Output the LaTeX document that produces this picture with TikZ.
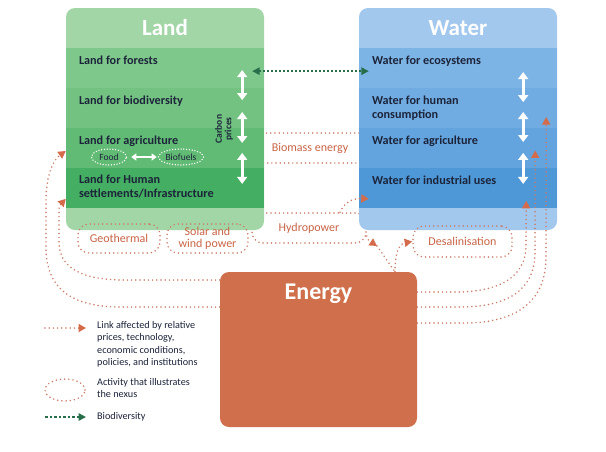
\documentclass[tikz,border=0pt]{standalone}
\usepackage{fontspec}
\setmainfont{Carlito}
\usepackage{tikz}
\usetikzlibrary{positioning,arrows.meta,shapes.geometric}

\definecolor{navy}{RGB}{28,36,58}
\definecolor{landhead}{RGB}{163,214,167}
\definecolor{landA}{RGB}{127,200,140}
\definecolor{landB}{RGB}{115,194,129}
\definecolor{landC}{RGB}{98,187,117}
\definecolor{landD}{RGB}{68,174,98}
\definecolor{waterhead}{RGB}{163,200,238}
\definecolor{waterA}{RGB}{125,180,230}
\definecolor{waterB}{RGB}{112,172,226}
\definecolor{waterC}{RGB}{100,164,222}
\definecolor{waterD}{RGB}{78,152,216}
\definecolor{energyc}{RGB}{207,111,75}
\definecolor{linkc}{RGB}{204,122,102}
\definecolor{tipc}{RGB}{212,108,75}
\definecolor{actc}{RGB}{200,100,70}
\definecolor{biogreen}{RGB}{40,110,75}

\tikzset{
    panel/.style={rounded corners=9pt, minimum width=198pt,
        minimum height=222pt, inner sep=0pt},
    band/.style={minimum width=198pt, minimum height=39.5pt, inner sep=0pt},
    rowtext/.style={anchor=north west, align=left, inner sep=0pt,
        font=\bfseries\fontsize{12.2}{13.5}\selectfont, text=navy},
    headline/.style={text=white, font=\bfseries\fontsize{23}{25}\selectfont},
    duo/.style={white, line width=3pt,
        {Triangle[width=10pt,length=7pt]}-{Triangle[width=10pt,length=7pt]}},
    link/.style={draw=linkc, line width=1.7pt, line cap=round,
        dash pattern=on 0pt off 4.2pt},
    linktip/.style={-{Triangle[width=8pt,length=7.5pt,color=tipc]}},
    activity/.style={draw=linkc, line width=1.7pt, line cap=round,
        dash pattern=on 0pt off 4.2pt, rounded corners=11pt, text=actc,
        font=\fontsize{12}{11.5}\selectfont, inner sep=0pt, align=center},
    foodbox/.style={ellipse, draw=white, line width=1.5pt, line cap=round,
        dash pattern=on 0pt off 2.8pt, minimum width=35pt, minimum height=16pt,
        inner sep=0.5pt, text=navy, font=\fontsize{9.5}{9.5}\selectfont},
    bio/.style={draw=biogreen, line width=1.6pt, dash pattern=on 1.6pt off 2.4pt,
        {Triangle[width=7.5pt,length=7.5pt]}-{Triangle[width=7.5pt,length=7.5pt]}},
    keytext/.style={anchor=north west, align=left, inner sep=0pt, text=navy,
        font=\fontsize{10.2}{12.5}\selectfont},
}

\begin{document}
\begin{tikzpicture}[x=1pt,y=-1pt]

        \fill[white] (0,0) rectangle (606,451);
        \useasboundingbox (0,0) rectangle (606,451);

        % Activities lying behind the panels

        \node[activity,
        minimum width=120pt,
        minimum height=30pt
            ] (biomass) at (310,148) {Biomass energy};

        \node[activity,
        minimum width=114pt,
        minimum height=30pt
            ] (hydro) at (309,228) {Hydropower};

        % Land

        \node[panel, fill=landhead] (land) at (165,119) {};
        \node[band, minimum height=40pt, anchor=north, headline]
            (landhead) at (land.north) {Land};
        \node[band, fill=landA, below=0pt of landhead] (forest) {};
        \node[band, fill=landB, below=0pt of forest] (biodiv) {};
        \node[band, fill=landC, below=0pt of biodiv] (agrirow) {};
        \node[band, fill=landD, below=0pt of agrirow] (humanrow) {};

        \node[rowtext] (forestlbl) at ([xshift=13pt,yshift=-8pt]forest.north west)
            {Land for forests};
        \node[rowtext] (biodivlbl) at ([xshift=13pt,yshift=-8pt]biodiv.north west)
            {Land for biodiversity};
        \node[rowtext] (agrilbl) at ([xshift=13pt,yshift=-8pt]agrirow.north west)
            {Land for agriculture};
        \node[rowtext] (humanlbl) at ([xshift=13pt,yshift=-7pt]humanrow.north west)
            {Land for Human\\settlements/Infrastructure};

        \node[foodbox] (food) at (109,157) {Food};
        \node[foodbox] (biofuel) at (181,157) {Biofuels};
        \draw[white, line width=2.2pt,
            {Triangle[width=7pt,length=5pt]}-{Triangle[width=7pt,length=5pt]}]
            ([xshift=4pt]food.east) -- ([xshift=-1pt]biofuel.west);

        \node[rotate=90, align=center, inner sep=0pt, text=navy,
            font=\bfseries\fontsize{9.5}{9.5}\selectfont]
            (carbon) at (224,129) {Carbon\\prices};

        \draw[duo] ([xshift=-22pt,yshift=18pt]forest.south east)
            -- ([xshift=-22pt,yshift=-12pt]forest.south east);
        \draw[duo] ([xshift=-22pt,yshift=16pt]biodiv.south east)
            -- ([xshift=-22pt,yshift=-15pt]biodiv.south east);
        \draw[duo] ([xshift=-22pt,yshift=15pt]agrirow.south east)
            -- ([xshift=-22pt,yshift=-16pt]agrirow.south east);

        % Water

        \node[panel, fill=waterhead] (water) at (458,119) {};
        \node[band, minimum height=40pt, anchor=north, headline]
            (waterhead) at (water.north) {Water};
        \node[band, fill=waterA, below=0pt of waterhead] (ecosys) {};
        \node[band, fill=waterB, below=0pt of ecosys] (whumrow) {};
        \node[band, fill=waterC, below=0pt of whumrow] (wagrirow) {};
        \node[band, fill=waterD, below=0pt of wagrirow] (indrow) {};

        \node[rowtext] (ecosyslbl) at ([xshift=13pt,yshift=-8pt]ecosys.north west)
            {Water for ecosystems};
        \node[rowtext] (whumlbl) at ([xshift=13pt,yshift=-8pt]whumrow.north west)
            {Water for human\\consumption};
        \node[rowtext] (wagrilbl) at ([xshift=13pt,yshift=-8pt]wagrirow.north west)
            {Water for agriculture};
        \node[rowtext] (indlbl) at ([xshift=13pt,yshift=-8pt]indrow.north west)
            {Water for industrial uses};

        \draw[duo] ([xshift=-34pt,yshift=16pt]ecosys.south east)
            -- ([xshift=-34pt,yshift=-14pt]ecosys.south east);
        \draw[duo] ([xshift=-34pt,yshift=16pt]whumrow.south east)
            -- ([xshift=-34pt,yshift=-14pt]whumrow.south east);
        \draw[duo] ([xshift=-34pt,yshift=15pt]wagrirow.south east)
            -- ([xshift=-34pt,yshift=-16pt]wagrirow.south east);

        % Energy

        \node[panel, fill=energyc,
        minimum width=197pt,
        minimum height=155pt
            ] (energy) at (318.5,349.5) {};
        \node[headline, anchor=north, inner sep=0pt,
            font=\bfseries\fontsize{24}{26}\selectfont]
            (energylbl) at ([yshift=-12pt]energy.north) {Energy};

        % Activities in front

        \node[activity,
        minimum width=82pt,
        minimum height=29pt
            ] (geo) at (119,238.5) {Geothermal};

        \node[activity,
        minimum width=81pt,
        minimum height=29pt
            ] (solar) at (207.5,238.5) {Solar and\\wind power};

        \node[activity,
        minimum width=99pt,
        minimum height=31pt
            ] (desal) at (462.5,241.5) {Desalinisation};

        % Links

        \draw[bio] ([xshift=-12pt,yshift=-3pt]forest.east)
            -- ([xshift=10pt,yshift=-3pt]ecosys.west);

        \draw[link, linktip] ([yshift=42.5pt]energy.west) -- (120,307)
            .. controls (70,307) and (46,287) .. (46,248) -- (46,200)
            .. controls (46,176) and (53,160) .. ([yshift=-3pt]agrirow.west);
        \draw[link, linktip] ([yshift=69.5pt]energy.west) -- (125,280)
            .. controls (82,280) and (59,268) .. (59,242) -- (59,214)
            .. controls (59,206) .. ([yshift=-11pt]humanrow.west);

        \draw[link, linktip] ([yshift=57.5pt]energy.east) -- (455,292)
            .. controls (495,292) and (526,280) .. (526,245)
            -- ([xshift=-31pt,yshift=-13pt]indrow.east);
        \draw[link, linktip] ([yshift=42.5pt]energy.east) -- (460,307)
            .. controls (505,307) and (535,292) .. (535,252)
            -- ([xshift=-22pt,yshift=-2.5pt]wagrirow.east);
        \draw[link, linktip] ([yshift=26.5pt]energy.east) -- (465,323)
            .. controls (515,323) and (546,302) .. (546,258)
            -- ([xshift=-11pt,yshift=-9pt]whumrow.east);

        \draw[link, linktip] ([xshift=31pt]hydro.north)
            .. controls (344,203) and (352,198) .. ([xshift=10pt,yshift=-11pt]indrow.west);
        \draw[link, linktip] ([yshift=-8pt]hydro.east)
            .. controls (368,240) .. (377,246) coordinate (hydrodown);
        \draw[link] (hydrodown) -- ([xshift=76.5pt]energy.north);
        \draw[link, linktip] ([xshift=76.5pt]energy.north)
            .. controls (395,255) and (398,244) .. (desal.west);

        % Key

        \coordinate (keylinkA) at (45,328);
        \coordinate (keylinkB) at (86,328);
        \draw[link, linktip] (keylinkA) -- (keylinkB);
        \node[keytext] (keylink) at (97,321)
            {Link affected by relative\\prices, technology,\\economic conditions,\\policies, and institutions};

        \node[ellipse, draw=linkc, line width=1.7pt, line cap=round,
            dash pattern=on 0pt off 4.2pt,
            minimum width=40pt, minimum height=22pt] (keyact) at (65,390) {};
        \node[keytext] (keyactlbl) at (97,378)
            {Activity that illustrates\\the nexus};

        \coordinate (keybioA) at (45,417);
        \coordinate (keybioB) at (86,417);
        \draw[draw=biogreen, line width=1.6pt, dash pattern=on 2.5pt off 2pt,
            -{Triangle[width=7.5pt,length=7.5pt]}] (keybioA) -- (keybioB);
        \node[keytext, anchor=west] (keybiolbl) at (97,417) {Biodiversity};

\end{tikzpicture}
\end{document}
